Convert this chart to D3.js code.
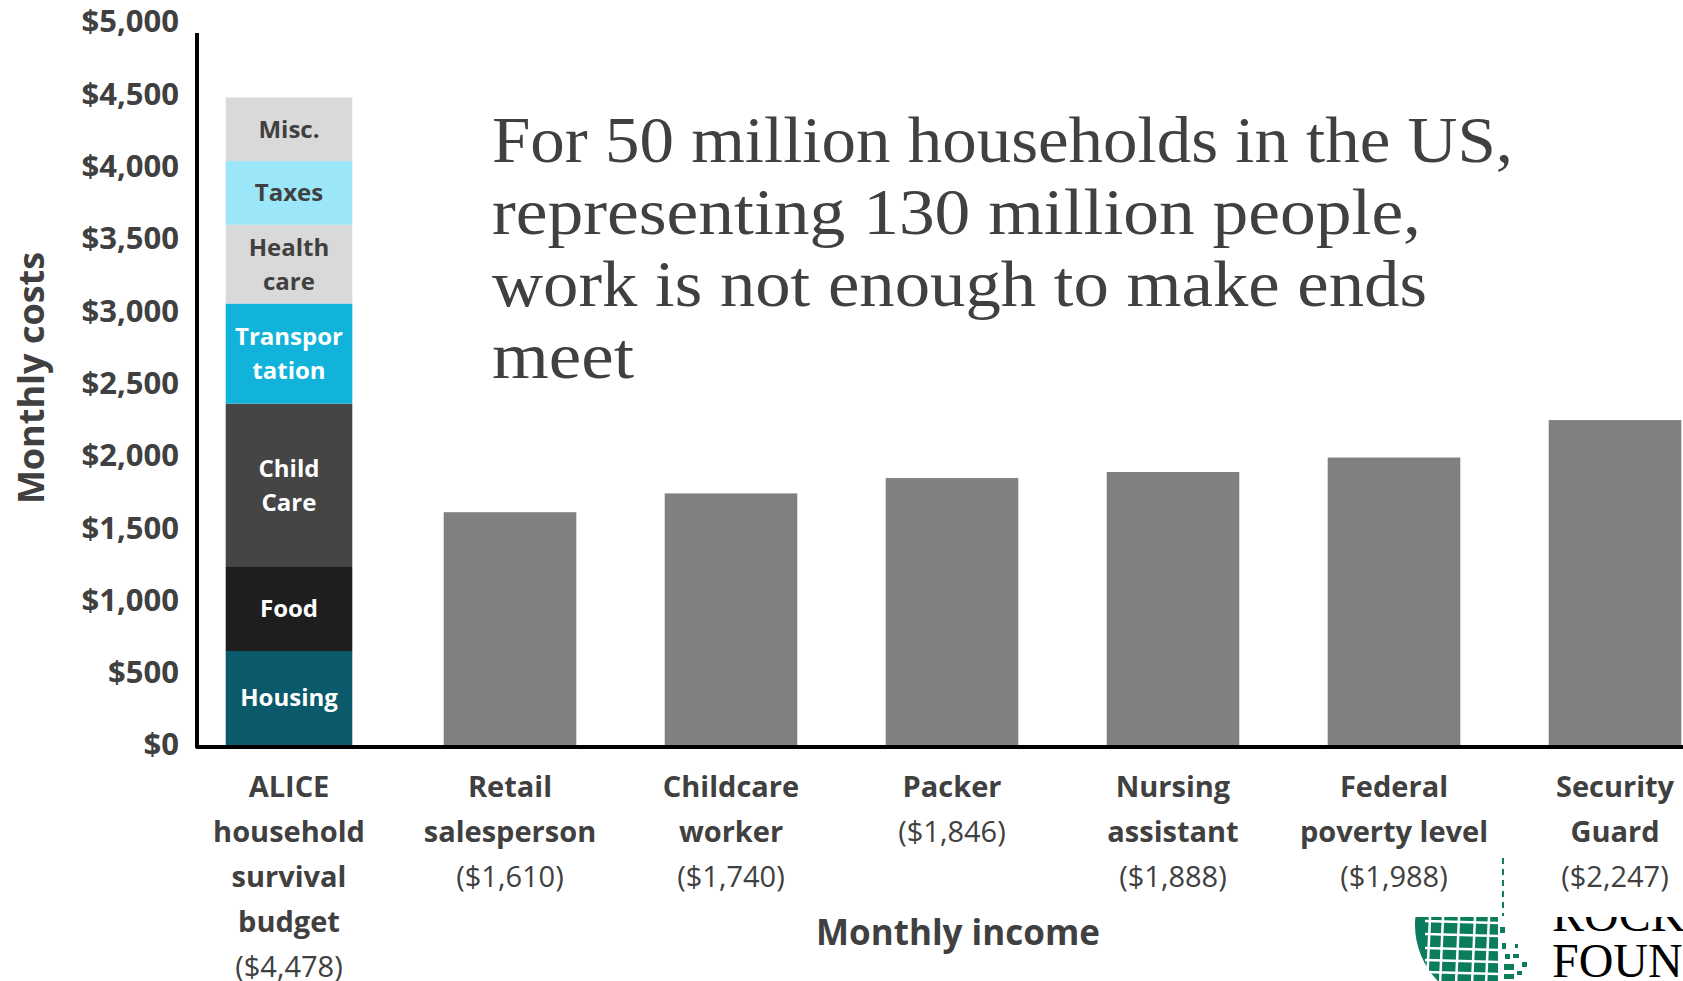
<!DOCTYPE html>
<html>
<head>
<meta charset="utf-8">
<script src="https://cdn.jsdelivr.net/npm/d3@7"></script>
<style>
  body { margin: 0; background: #fff; overflow: hidden; }
  svg { display: block; }
</style>
</head>
<body>
<svg id="chart" width="1683" height="981"></svg>
<script>
// ---- data ----
const categories = ["ALICE", "Retail", "Childcare", "Packer", "Nursing", "Federal", "Security"];
const categoryLines = [
  ["ALICE", "household", "survival", "budget"],
  ["Retail", "salesperson"],
  ["Childcare", "worker"],
  ["Packer"],
  ["Nursing", "assistant"],
  ["Federal", "poverty level"],
  ["Security", "Guard"]
];
const budgetTotal = 4478;
const incomes = [1610, 1740, 1846, 1888, 1988, 2247];   // Retail .. Security
const budgetItems = ["Housing", "Food", "Child Care", "Transportation", "Health care", "Taxes", "Misc."];
const budgetCosts = [650, 581, 1130, 692, 545, 440, 440];
const budgetItemLines = [["Housing"], ["Food"], ["Child", "Care"], ["Transpor", "tation"], ["Health", "care"], ["Taxes"], ["Misc."]];
const yTicks = [0, 500, 1000, 1500, 2000, 2500, 3000, 3500, 4000, 4500, 5000];
const headline = [
  "For 50 million households in the US,",
  "representing 130 million people,",
  "work is not enough to make ends",
  "meet"
];

// ---- styles ----
const budgetColors = ["#0a5a6b", "#1e1e1e", "#454545", "#12b3da", "#d9d9d9", "#9be6f8", "#d9d9d9"];
const budgetTextColors = ["#fff", "#fff", "#fff", "#fff", "#404040", "#404040", "#404040"];
const textColor = "#404040";
const sans = "'Open Sans', Lato, sans-serif";

const svg = d3.select("#chart");
const fmt = d3.format("$,");

const y = d3.scaleLinear().domain([0, 5000]).range([745, 22]);
const x = d3.scaleBand().domain(categories).range([178.5, 1725.5])
  .paddingInner(0.4).paddingOuter(0.2);

// ---- stacked budget bar ----
let acc = 0;
const stack = budgetCosts.map((v, i) => {
  const s = { item: budgetItems[i], lines: budgetItemLines[i], y0: acc, y1: acc + v, i };
  acc += v;
  return s;
});
const aliceX = x("ALICE");
const bw = x.bandwidth();
const seg = svg.append("g");
seg.selectAll("rect").data(stack).join("rect")
  .attr("x", aliceX + 3).attr("width", bw - 6)
  .attr("y", d => y(d.y1)).attr("height", d => y(d.y0) - y(d.y1))
  .attr("fill", d => budgetColors[d.i]);
seg.selectAll("text").data(stack).join("text")
  .attr("text-anchor", "middle")
  .attr("font-family", sans).attr("font-weight", 700).attr("font-size", 24)
  .attr("fill", d => budgetTextColors[d.i])
  .each(function (d) {
    const mid = (y(d.y0) + y(d.y1)) / 2;
    const n = d.lines.length;
    d3.select(this).selectAll("tspan").data(d.lines).join("tspan")
      .attr("x", aliceX + bw / 2)
      .attr("y", (l, k) => mid + (k - (n - 1) / 2) * 34)
      .attr("dy", "0.35em")
      .text(l => l);
  });

// ---- income bars ----
const jobCats = categories.slice(1);
svg.append("g").selectAll("rect").data(incomes).join("rect")
  .attr("x", (d, i) => x(jobCats[i]))
  .attr("width", bw)
  .attr("y", d => y(d))
  .attr("height", d => y(0) - y(d))
  .attr("fill", "#808080");

// ---- y axis ----
const yAxis = svg.append("g")
  .attr("transform", "translate(197,0)")
  .call(d3.axisLeft(y).tickValues(yTicks).tickFormat(fmt).tickSize(0).tickPadding(18));
yAxis.select(".domain").remove();
yAxis.attr("color", textColor);
yAxis.selectAll("text")
  .attr("font-family", sans).attr("font-weight", 700).attr("font-size", 31)
  .attr("fill", textColor);

// axis lines
svg.append("path")
  .attr("d", `M197,${y(0) - 712}V${y(0) + 2}H1690`)
  .attr("fill", "none").attr("stroke", "#000").attr("stroke-width", 4)
  .attr("stroke-linejoin", "round");

svg.append("text")
  .attr("transform", `translate(44,378) rotate(-90)`)
  .attr("text-anchor", "middle")
  .attr("font-family", sans).attr("font-weight", 700).attr("font-size", 36)
  .attr("fill", textColor)
  .text("Monthly costs");

// ---- category labels ----
const values = [budgetTotal].concat(incomes);
const cat = svg.append("g").attr("font-family", sans).attr("font-size", 29).attr("fill", textColor);
categories.forEach((c, i) => {
  const cx = x(c) + bw / 2;
  const t = cat.append("text").attr("text-anchor", "middle");
  const lines = categoryLines[i];
  lines.forEach((l, k) => {
    t.append("tspan").attr("x", cx).attr("y", 797 + k * 45).attr("font-weight", 700).text(l);
  });
  t.append("tspan").attr("x", cx).attr("y", 797 + lines.length * 45)
    .attr("font-weight", 400).text(`(${fmt(values[i])})`);
});

svg.append("text")
  .attr("x", 958).attr("y", 945)
  .attr("text-anchor", "middle")
  .attr("font-family", sans).attr("font-weight", 700).attr("font-size", 35)
  .attr("fill", textColor)
  .text("Monthly income");

// ---- headline ----
const headWidths = [1021, 929, 935, 142];
svg.append("g").selectAll("text").data(headline).join("text")
  .attr("x", 492)
  .attr("y", (d, i) => 162 + i * 72)
  .attr("font-family", "'Liberation Serif', 'DejaVu Serif', serif")
  .attr("font-size", 66)
  .attr("fill", textColor)
  .attr("textLength", (d, i) => headWidths[i])
  .attr("lengthAdjust", "spacingAndGlyphs")
  .text(d => d);

// ---- foundation logo (lower right) ----
const green = "#0b7c5c";
const defs = svg.append("defs");
defs.append("clipPath").attr("id", "logoClip")
  .append("rect").attr("x", 1400).attr("y", 917).attr("width", 300).attr("height", 70);
defs.append("clipPath").attr("id", "globeClip")
  .append("rect").attr("x", 1400).attr("y", 917).attr("width", 98).attr("height", 70);

svg.append("line")
  .attr("x1", 1503).attr("x2", 1503).attr("y1", 858).attr("y2", 916)
  .attr("stroke", green).attr("stroke-width", 2).attr("stroke-dasharray", "6,5");

const logo = svg.append("g").attr("clip-path", "url(#logoClip)");
// globe body with white grid
const globe = logo.append("g").attr("clip-path", "url(#globeClip)");
globe.append("circle").attr("cx", 1495).attr("cy", 925).attr("r", 80).attr("fill", green);
[1430, 1443, 1459, 1475, 1489].forEach(gx =>
  globe.append("line").attr("x1", gx).attr("x2", gx - 3).attr("y1", 917).attr("y2", 985)
    .attr("stroke", "#fff").attr("stroke-width", 2.5));
[921, 934, 948, 960, 972].forEach(gy =>
  globe.append("line").attr("x1", 1425).attr("x2", 1500).attr("y1", gy).attr("y2", gy + 2)
    .attr("stroke", "#fff").attr("stroke-width", 2.5));
// fragmented edge of the globe
const fragments = [
  [1500, 927, 5, 6], [1502, 943, 4, 6], [1515, 944, 3, 4], [1505, 954, 5, 5],
  [1513, 954, 6, 4], [1522, 962, 5, 5], [1504, 964, 10, 6], [1504, 974, 10, 5], [1517, 971, 5, 4]
];
logo.append("g").selectAll("rect").data(fragments).join("rect")
  .attr("x", d => d[0]).attr("y", d => d[1]).attr("width", d => d[2]).attr("height", d => d[3])
  .attr("fill", green);
logo.append("text").attr("x", 1552).attr("y", 931)
  .attr("font-family", "'Liberation Serif', serif").attr("font-size", 48).attr("fill", "#000")
  .text("ROCKEFELLER");
logo.append("text").attr("x", 1552).attr("y", 977)
  .attr("font-family", "'Liberation Serif', serif").attr("font-size", 48).attr("fill", "#000")
  .text("FOUNDATION");
</script>
</body>
</html>
